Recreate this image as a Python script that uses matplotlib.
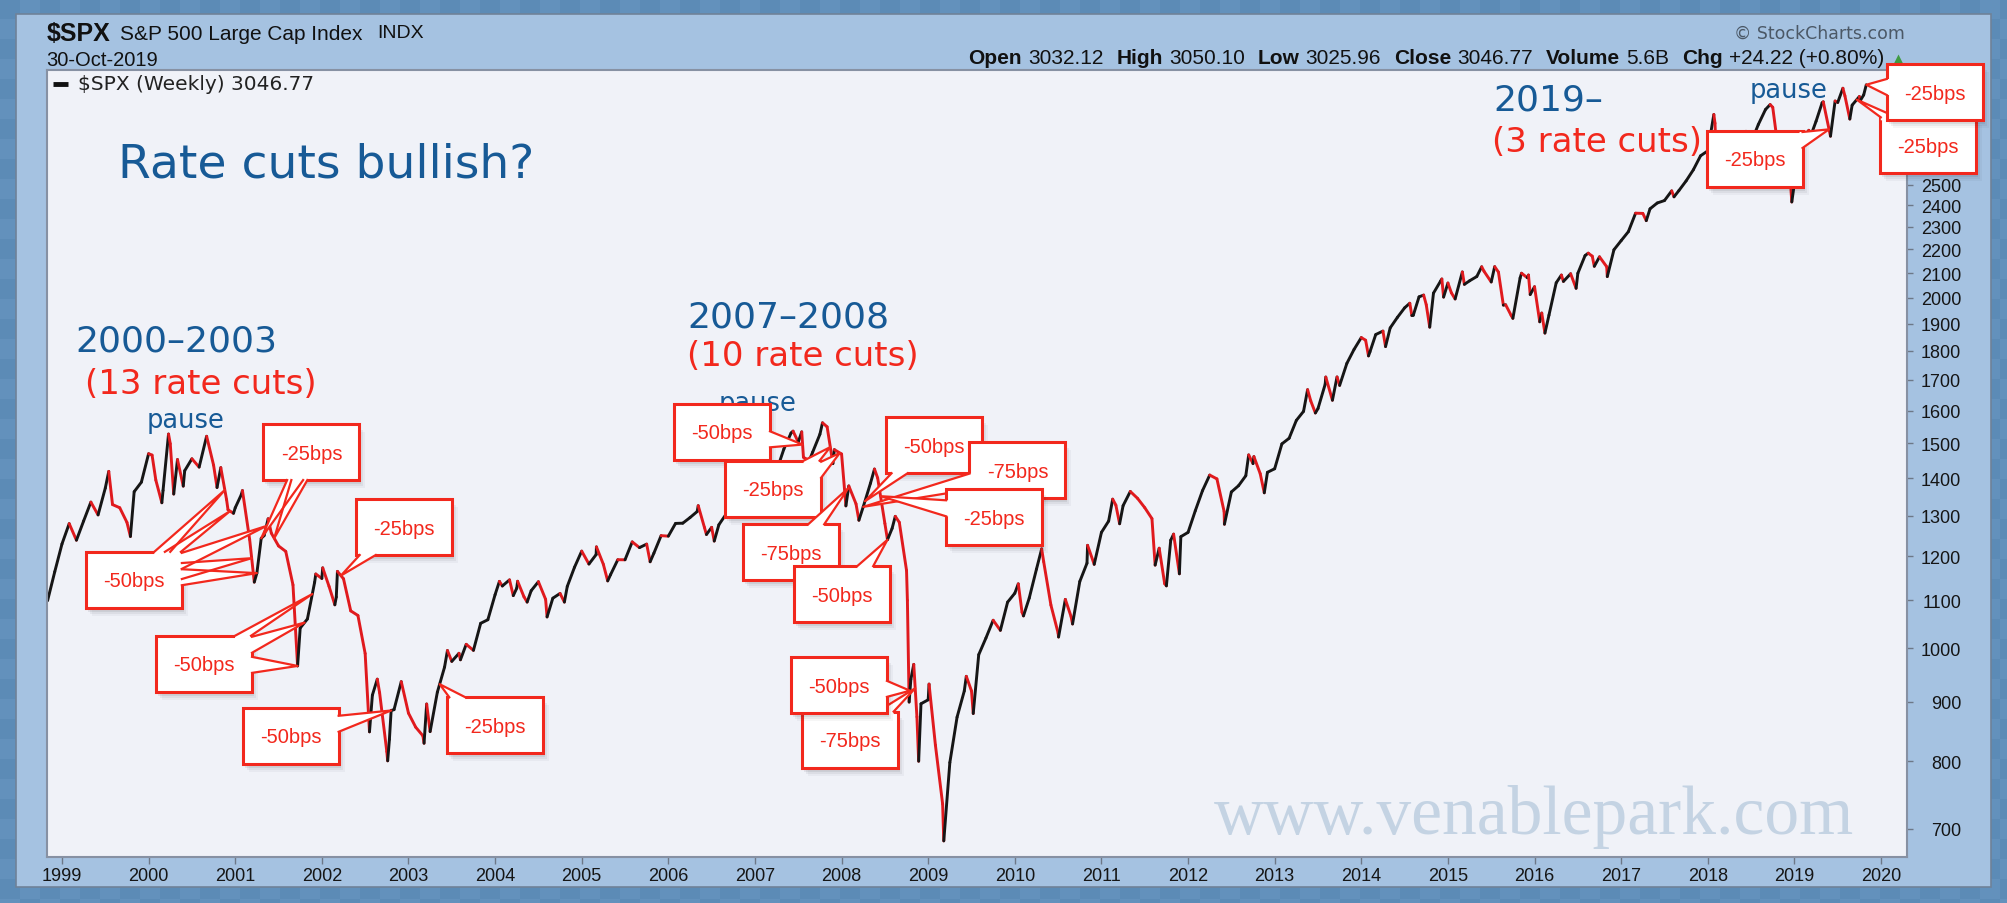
import numpy as np
import matplotlib
matplotlib.use("Agg")
import matplotlib.pyplot as plt
import matplotlib.ticker as mticker
from matplotlib.collections import LineCollection
from matplotlib.colors import ListedColormap
from matplotlib.patches import Rectangle, Polygon

plt.rcParams['font.family'] = ['DejaVu Sans']

# ---- data ---------------------------------------------------------------
# S&P 500 month-end closes, Oct 1998 .. Sep 2019
first_month = 1998 + 10 / 12
monthly_close = [
    1098.7, 1163.6, 1229.2,
    1279.6, 1238.3, 1286.4, 1335.2, 1301.8, 1372.7, 1328.7, 1320.4, 1282.7, 1362.9, 1388.9, 1469.3,
    1394.5, 1366.4, 1498.6, 1452.4, 1420.6, 1454.6, 1430.8, 1517.7, 1436.5, 1429.4, 1315.0, 1320.3,
    1366.0, 1239.9, 1160.3, 1249.5, 1255.8, 1224.4, 1211.2, 1133.6, 1040.9, 1059.8, 1139.5, 1148.1,
    1130.2, 1106.7, 1147.4, 1076.9, 1067.1, 989.8, 911.6, 916.1, 815.3, 885.8, 936.3, 879.8,
    855.7, 841.2, 848.2, 916.9, 963.6, 974.5, 990.3, 1008.0, 996.0, 1050.7, 1058.2, 1111.9,
    1131.1, 1144.9, 1126.2, 1107.3, 1120.7, 1140.8, 1101.7, 1104.2, 1114.6, 1130.2, 1173.8, 1211.9,
    1181.3, 1203.6, 1180.6, 1156.9, 1191.5, 1191.3, 1234.2, 1220.3, 1228.8, 1207.0, 1249.5, 1248.3,
    1280.1, 1280.7, 1294.9, 1310.6, 1270.1, 1270.2, 1276.7, 1303.8, 1335.9, 1377.9, 1400.6, 1418.3,
    1438.2, 1406.8, 1420.9, 1482.4, 1530.6, 1503.4, 1455.3, 1474.0, 1526.8, 1549.4, 1481.1, 1468.4,
    1378.6, 1330.6, 1322.7, 1385.6, 1400.4, 1280.0, 1267.4, 1282.8, 1166.4, 968.8, 896.2, 903.3,
    825.9, 735.1, 797.9, 872.8, 919.1, 919.3, 987.5, 1020.6, 1057.1, 1036.2, 1095.6, 1115.1,
    1073.9, 1104.5, 1169.4, 1186.7, 1089.4, 1030.7, 1101.6, 1049.3, 1141.2, 1183.3, 1180.6, 1257.6,
    1286.1, 1327.2, 1325.8, 1363.6, 1345.2, 1320.6, 1292.3, 1218.9, 1131.4, 1253.3, 1247.0, 1257.6,
    1312.4, 1365.7, 1408.5, 1397.9, 1310.3, 1362.2, 1379.3, 1406.6, 1440.7, 1412.2, 1416.2, 1426.2,
    1498.1, 1514.7, 1569.2, 1597.6, 1630.7, 1606.3, 1685.7, 1633.0, 1681.6, 1756.5, 1805.8, 1848.4,
    1782.6, 1859.5, 1872.3, 1884.0, 1923.6, 1960.2, 1930.7, 2003.4, 1972.3, 2018.1, 2067.6, 2058.9,
    1995.0, 2104.5, 2067.9, 2085.5, 2107.4, 2063.1, 2103.8, 1972.2, 1920.0, 2079.4, 2080.4, 2043.9,
    1940.2, 1932.2, 2059.7, 2065.3, 2097.0, 2098.9, 2173.6, 2171.0, 2168.3, 2126.2, 2198.8, 2238.8,
    2278.9, 2363.6, 2362.7, 2384.2, 2411.8, 2423.4, 2470.3, 2471.7, 2519.4, 2575.3, 2647.6, 2673.6,
    2823.8, 2713.8, 2640.9, 2648.1, 2705.3, 2718.4, 2816.3, 2901.5, 2914.0, 2711.7, 2760.2, 2506.9,
    2704.1, 2784.5, 2834.4, 2945.8, 2752.1, 2941.8, 2980.4, 2926.5, 2976.7,
]

# weekly closes at the swings between month ends
swing_date = [
    1999.54, 1999.79, 2000.04, 2000.153, 2000.23, 2000.29, 2000.40, 2000.67, 2000.79, 2000.90, 2000.98,
    2001.07, 2001.22, 2001.30, 2001.38, 2001.72, 2001.93, 2002.01, 2002.15, 2002.18,
    2002.55, 2002.64, 2002.76, 2002.78, 2002.80, 2003.18, 2003.21, 2004.60, 2005.30,
    2006.345, 2006.44, 2007.15, 2007.17, 2007.44, 2007.54, 2007.56, 2007.62, 2007.78, 2007.90,
    2008.05, 2008.20, 2008.38, 2008.53, 2008.62, 2008.76, 2008.78, 2008.80, 2008.87, 2008.89,
    2009.01, 2009.18, 2009.44, 2009.52, 2010.31, 2010.505, 2010.65,
    2011.13, 2011.21, 2011.62, 2011.73, 2011.80, 2011.90, 2012.42, 2012.70, 2012.88,
    2013.47, 2014.79, 2015.39, 2015.64, 2015.73, 2015.85, 2016.12, 2016.48, 2016.84,
    2018.07, 2018.10, 2018.72, 2018.82, 2018.90, 2018.97, 2019.32, 2019.56, 2019.64, 2019.80, 2019.83,
    2003.45, 2003.60, 2004.05, 2004.21, 2004.26, 2004.37, 2004.80, 2005.17, 2005.79, 2006.53,
    2010.04, 2010.10, 2010.84, 2012.76, 2013.38, 2013.59, 2013.72, 2014.05, 2014.10, 2014.28,
    2014.56, 2014.60, 2014.72, 2014.93, 2014.95, 2015.04, 2015.19, 2015.54, 2015.93, 2015.95,
    2016.06, 2016.31, 2016.62, 2016.69, 2017.29, 2017.61, 2018.23, 2018.44, 2019.01, 2019.18, 2019.47, 2019.76,
]
swing_close = [
    1418.8, 1247.4, 1465.2, 1333.4, 1527.5, 1356.6, 1378.0, 1520.8, 1374.2, 1341.8, 1305.9,
    1354.9, 1139.8, 1243.0, 1292.0, 965.8, 1158.3, 1172.5, 1089.8, 1164.3,
    847.8, 940.9, 800.6, 835.3, 884.4, 828.9, 895.8, 1064.0, 1142.6,
    1325.8, 1252.3, 1451.2, 1387.2, 1536.3, 1534.1, 1458.9, 1445.6, 1561.8, 1440.7,
    1325.2, 1288.1, 1425.4, 1239.5, 1298.2, 1099.2, 899.2, 940.6, 873.3, 800.0,
    931.8, 683.4, 946.2, 879.1, 1217.3, 1022.6, 1064.6,
    1343.0, 1279.2, 1178.8, 1136.4, 1238.3, 1158.7, 1278.0, 1465.8, 1359.9,
    1592.4, 1886.8, 2126.1, 1970.9, 1931.3, 2099.2, 1864.8, 2037.4, 2085.2,
    2872.9, 2619.5, 2929.7, 2658.7, 2632.6, 2416.6, 2939.9, 3025.9, 2847.1, 2986.2, 3046.8,
    995.7, 977.6, 1141.6, 1109.8, 1141.8, 1095.7, 1095.7, 1222.1, 1186.6, 1236.2,
    1136.0, 1066.2, 1225.9, 1460.9, 1667.5, 1709.7, 1710.0, 1838.7, 1797.0, 1815.7,
    1978.3, 1931.6, 2010.4, 2075.4, 2002.3, 2019.4, 2053.4, 2126.6, 2091.7, 2012.4,
    1906.9, 2091.6, 2184.1, 2128.0, 2329.0, 2441.3, 2588.3, 2779.0, 2532.0, 2743.1, 2950.5, 2952.0,
]

year_ticks = list(range(1999, 2021))
price_ticks = list(range(700, 2600, 100))

ohlc_names = ["Open", "High", "Low", "Close", "Volume", "Chg"]
ohlc_values = ["3032.12", "3050.10", "3025.96", "3046.77", "5.6B", "+24.22 (+0.80%)"]

# rate-cut callouts: label, box centre (year, level), years the pointers hit
cut_label = ["-50bps", "-25bps", "-25bps", "-50bps", "-50bps", "-25bps",
             "-50bps", "-25bps", "-75bps", "-50bps", "-50bps", "-75bps", "-25bps", "-75bps", "-50bps",
             "-25bps", "-25bps", "-25bps"]
box_year = [1999.83, 2001.88, 2002.95, 2000.64, 2001.64, 2004.00,
            2006.62, 2007.21, 2007.42, 2008.00, 2009.07, 2010.03, 2009.76, 2008.10, 2007.97,
            2018.54, 2020.54, 2020.62]
box_level = [1145, 1474, 1271, 970, 841, 859,
             1535, 1371, 1209, 1113, 1494, 1422, 1296, 835, 930,
             2631, 2703, 3002]
tip_years = [[2000.88, 2000.94, 2001.36, 2001.25, 2001.19], [2001.30, 2001.45], [2002.22],
             [2001.72, 2001.80, 2001.89], [2002.80], [2003.36],
             [2007.55], [2007.87, 2007.98], [2008.08], [2008.53], [2008.27], [2008.25], [2008.45],
             [2008.85], [2008.79],
             [2019.40], [2019.72], [2019.83]]

# ---- figure -------------------------------------------------------------
W, H = 2008, 904
RED = '#f2281d'
BLUE = '#175a96'

dates = np.concatenate([first_month + np.arange(len(monthly_close)) / 12, swing_date])
closes = np.concatenate([monthly_close, swing_close])
order = np.argsort(dates)
dates, closes = dates[order], closes[order]

fig = plt.figure(figsize=(W / 100, H / 100), dpi=100)

bg = fig.add_axes([0, 0, 1, 1], zorder=0)
yy, xx = np.mgrid[0:H, 0:W]
bg.imshow((xx // 20 + yy // 20) % 2, cmap=ListedColormap(['#5c8bb6', '#6391bc']),
          extent=(0, W, H, 0), interpolation='nearest', aspect='auto')
bg.add_patch(Rectangle((16, 15), 1975, 873, fc='#a5c2e1', ec='#6f8298', lw=1.2))
bg.set_xlim(0, W)
bg.set_ylim(H, 0)
bg.axis('off')

L, R, T, B = 47, 1907, 71, 858
ax = fig.add_axes([L / W, 1 - B / H, (R - L) / W, (B - T) / H], zorder=1)
ax.set_facecolor('#f0f2f8')
ax.set_yscale('log')
ax.set_xlim(1998.827, 2020.30)
ax.set_ylim(662, 3137)

pts = np.column_stack([dates, closes])
segs = np.stack([pts[:-1], pts[1:]], axis=1)
cols = np.where(np.diff(closes) >= 0, '#161616', '#e01a1e')
ax.add_collection(LineCollection(segs, colors=cols, linewidths=2.1, capstyle='round',
                                 joinstyle='round', zorder=2))

ax.yaxis.tick_right()
ax.set_yticks(price_ticks)
ax.set_yticklabels([str(v) for v in price_ticks], fontfamily='Liberation Sans', ha='right')
ax.yaxis.set_minor_locator(mticker.NullLocator())
ax.yaxis.set_minor_formatter(mticker.NullFormatter())
ax.tick_params(axis='y', direction='out', length=4, width=1, color='#6d7888', pad=35,
               labelsize=13, labelcolor='#151515')
ax.set_xticks(year_ticks)
ax.set_xticklabels([str(y) for y in year_ticks], fontfamily='Liberation Sans')
ax.tick_params(axis='x', direction='out', length=5, width=1, color='#6d7888', pad=2,
               labelsize=13, labelcolor='#151515')
for s in ax.spines.values():
    s.set_color('#8791a3')
    s.set_linewidth(1.5)

# text inside the chart
ax.text(1999.647, 2539, "Rate cuts bullish?", color=BLUE, fontsize=34, va='baseline')
ax.text(1999.15, 1800, "2000\u20132003", color=BLUE, fontsize=26, va='baseline')
ax.text(1999.27, 1657, "(13 rate cuts)", color=RED, fontsize=24.5, va='baseline')
ax.text(1999.98, 1549, "pause", color=BLUE, fontsize=18.5, va='baseline')
ax.text(2006.22, 1891, "2007\u20132008", color=BLUE, fontsize=26, va='baseline')
ax.text(2006.22, 1751, "(10 rate cuts)", color=RED, fontsize=24.5, va='baseline')
ax.text(2006.58, 1603, "pause", color=BLUE, fontsize=18.5, va='baseline')
ax.text(2015.52, 2904, "2019\u2013", color=BLUE, fontsize=26, va='baseline')
ax.text(2015.51, 2674, "(3 rate cuts)", color=RED, fontsize=24.5, va='baseline')
ax.text(2018.48, 2975, "pause", color=BLUE, fontsize=18.5, va='baseline')
ax.text(2012.30, 694.5, "www.venablepark.com", color='#c4d3e3', fontsize=50,
        family='Liberation Serif', va='baseline', zorder=0.5)

# header
bg.text(47, 34, "$SPX", fontsize=18, fontweight='bold', family='Liberation Sans',
        va='center', color='#111111')
bg.text(120, 34, "S&P 500 Large Cap Index", fontsize=15, family='Liberation Sans',
        va='center', color='#111111')
bg.text(377, 34, "INDX", fontsize=14, family='Liberation Sans', va='center', color='#111111')
bg.text(46, 60, "30-Oct-2019", fontsize=14.5, family='Liberation Sans', va='center',
        color='#111111')
bg.text(1905, 34, "\u00a9 StockCharts.com", fontsize=12.5, ha='right', va='center',
        color='#4b5866')
bg.plot(1898, 61, marker='^', ms=9, color='#3f9b43', mec='none')

renderer = fig.canvas.get_renderer()
pieces = []
for name, val in zip(ohlc_names, ohlc_values):
    pieces.append((bg.text(0, 58.5, name, fontsize=15, fontweight='bold', family='Liberation Sans',
                           va='center', color='#111111'), 6))
    pieces.append((bg.text(0, 58.5, val, fontsize=15, family='Liberation Sans',
                           va='center', color='#111111'), 13))
widths = [t.get_window_extent(renderer).width for t, _ in pieces]
x = 1884 - (sum(widths) + sum(g for _, g in pieces[:-1]))
for (t, gap), w in zip(pieces, widths):
    t.set_x(x)
    x += w + gap

# overlay for legend and callouts
ann = fig.add_axes([0, 0, 1, 1], zorder=3)
ann.set_xlim(0, W)
ann.set_ylim(H, 0)
ann.axis('off')

ann.plot([53, 68], [85, 85], color='#111111', lw=3.5, solid_capstyle='butt')
ann.text(78, 85, "$SPX (Weekly) 3046.77", fontsize=14.5, va='center', color='#222222')


def to_px(xv, yv):
    dx, dy = ax.transData.transform((xv, yv))
    return dx, H - dy


def level_at(t):
    return np.exp(np.interp(t, dates, np.log(closes)))


BW, BH = 96, 56


def callout(label, bx, by, tips, z):
    cx, cy = to_px(bx, by)
    x0, y0 = cx - BW / 2, cy - BH / 2
    for off, a in ((2, 0.10), (4, 0.08), (6, 0.06), (8, 0.04)):
        ann.add_patch(Rectangle((x0 + off - 2, y0 + off), BW, BH, fc='#20242c', ec='none',
                                alpha=a, zorder=z))
    ann.add_patch(Rectangle((x0, y0), BW, BH, fc='white', ec=RED, lw=2.2, zorder=z + 0.1))
    for t in tips:
        tx, ty = to_px(t, level_at(t))
        dx, dy = tx - cx, ty - cy
        sx = (BW / 2) / abs(dx) if dx else np.inf
        sy = (BH / 2) / abs(dy) if dy else np.inf
        if sx < sy:
            ex = cx + np.sign(dx) * BW / 2
            ey = np.clip(cy + dy * sx, y0 + 9, y0 + BH - 9)
            b1, b2 = (ex, ey - 8), (ex, ey + 8)
            ins = (-np.sign(dx) * 3, 0)
        else:
            ey = cy + np.sign(dy) * BH / 2
            ex = np.clip(cx + dx * sy, x0 + 9, x0 + BW - 9)
            b1, b2 = (ex - 8, ey), (ex + 8, ey)
            ins = (0, -np.sign(dy) * 3)
        poly = [(b1[0] + ins[0], b1[1] + ins[1]), b1, (tx, ty), b2, (b2[0] + ins[0], b2[1] + ins[1])]
        ann.add_patch(Polygon(poly, closed=True, fc='white', ec='none', zorder=z + 0.2))
        ann.plot([b1[0], tx, b2[0]], [b1[1], ty, b2[1]], color=RED, lw=1.6, zorder=z + 0.3)
    ann.text(cx, cy + 1, label, color=RED, fontsize=14.5, family='Liberation Sans',
             ha='center', va='center', zorder=z + 0.4)


for i, (lab, bx, by, tips) in enumerate(zip(cut_label, box_year, box_level, tip_years)):
    callout(lab, bx, by, tips, 10 + i)

fig.savefig("out.png", dpi=100)
